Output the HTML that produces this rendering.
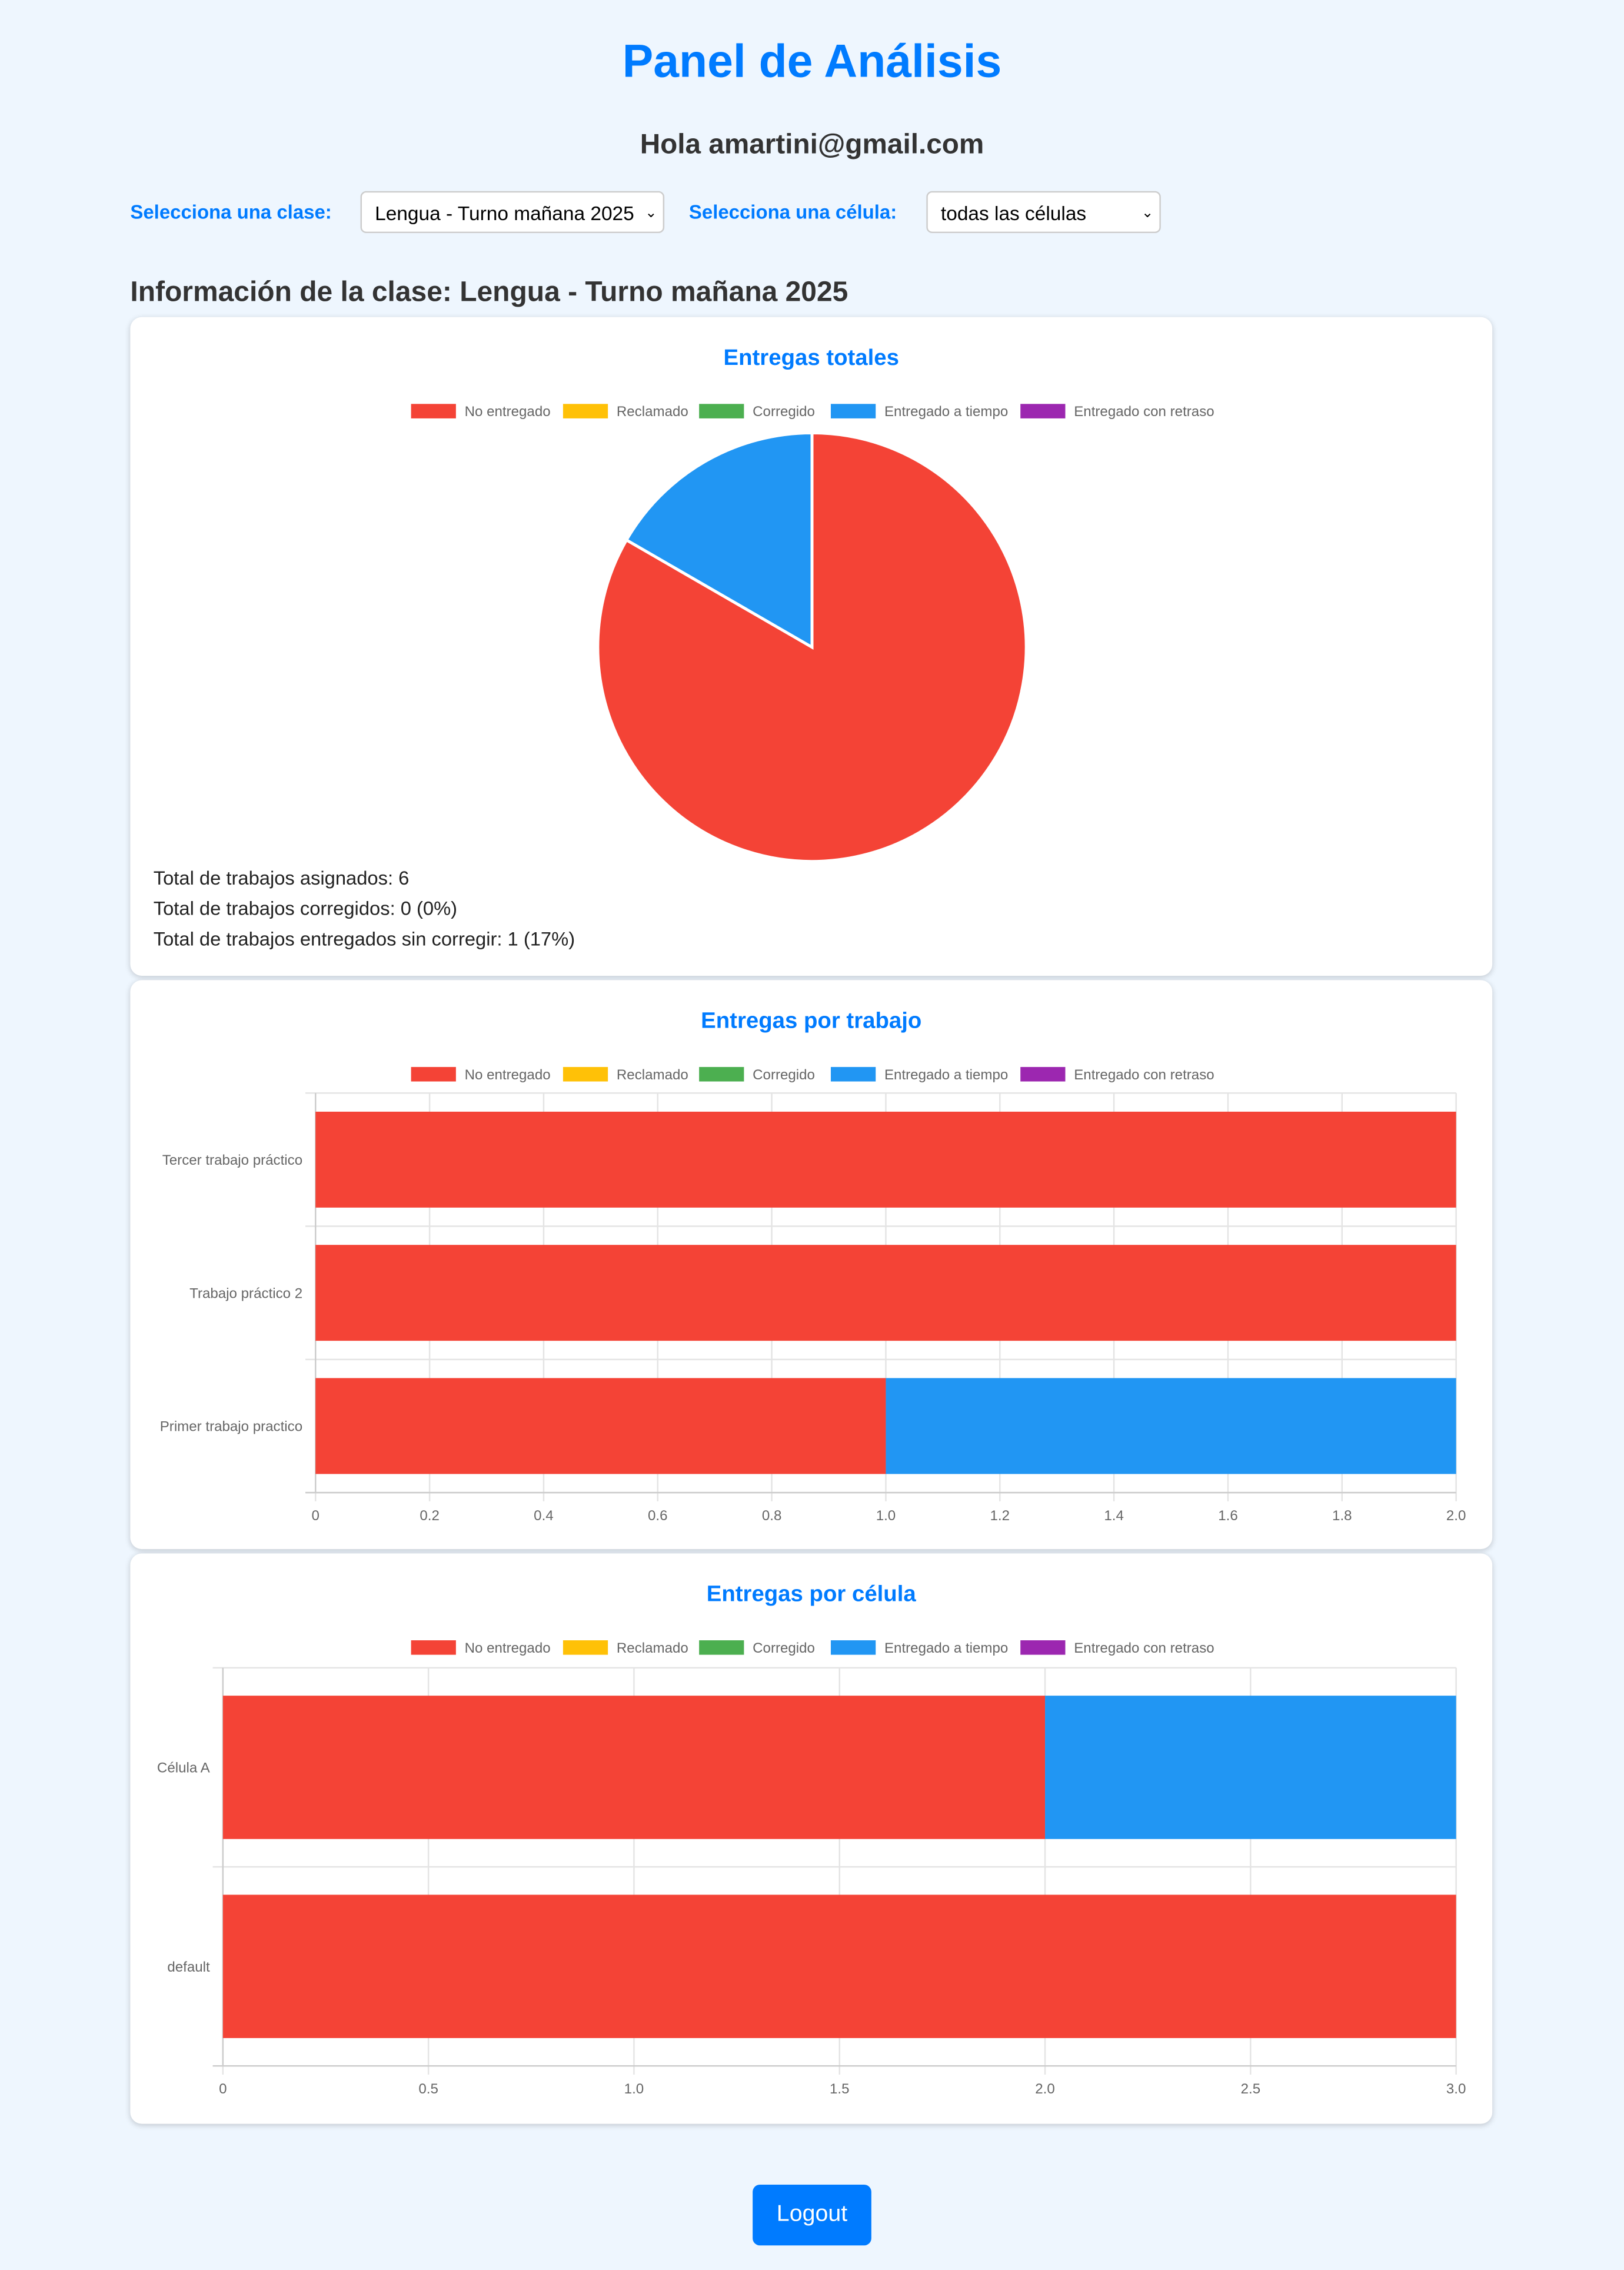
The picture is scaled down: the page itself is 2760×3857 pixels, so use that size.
<!DOCTYPE html>
<html><head><meta charset="utf-8">
<style>
html,body{margin:0;padding:0;background:#eef6fe;}
body{width:2760px;height:3856px;overflow:hidden;font-family:"Liberation Sans",Arial,sans-serif;}
#wrap{position:absolute;left:0;top:0;width:1122px;height:1568px;transform:scale(2.45989);transform-origin:0 0;}
.abs{position:absolute;}
h1{position:absolute;left:0;width:1122px;top:20px;margin:0;text-align:center;font-size:32px;color:#007bff;font-weight:bold;line-height:44px;}
.hola{position:absolute;left:0;width:1122px;top:89px;text-align:center;font-size:19.4px;font-weight:bold;color:#333;}
.lbl{position:absolute;top:139px;font-size:13.4px;font-weight:bold;color:#007bff;}
.sel{position:absolute;top:132px;height:29px;background:#fff;border:1px solid #ccc;border-radius:4px;box-sizing:border-box;font-size:13.6px;color:#000;line-height:29px;padding-left:9px;}
.sel span.ar{position:absolute;right:4px;top:0;font-size:10px;}
.info{position:absolute;left:90px;top:191px;font-size:19.5px;font-weight:bold;color:#333;}
.card{position:absolute;left:90px;width:941px;background:#fff;border-radius:8px;box-shadow:0 1px 4px rgba(0,0,0,0.18);box-sizing:border-box;}
.ctitle{position:absolute;left:0;width:100%;text-align:center;font-size:15.6px;font-weight:bold;color:#007bff;}
.stat{position:absolute;left:16px;font-size:13.3px;color:#222;}
.btn{position:absolute;left:520px;top:1509px;width:82px;height:42px;background:#007bff;color:#fff;border-radius:5px;font-size:16px;text-align:center;line-height:42px;}
svg text{font-family:"Liberation Sans",Arial,sans-serif;}
</style></head>
<body>
<div id="wrap">
<h1>Panel de Análisis</h1>
<div class="hola">Hola amartini@gmail.com</div>
<div class="lbl" style="left:90px">Selecciona una clase:</div>
<div class="sel" style="left:249px;width:210px">Lengua - Turno mañana 2025<span class="ar">⌄</span></div>
<div class="lbl" style="left:476px">Selecciona una célula:</div>
<div class="sel" style="left:640px;width:162px">todas las células<span class="ar">⌄</span></div>
<div class="info">Información de la clase: Lengua - Turno mañana 2025</div>

<div class="card" style="top:219px;height:455px">
 <div class="ctitle" style="top:20px">Entregas totales</div>
 <div class="stat" style="top:380px">Total de trabajos asignados: 6</div>
 <div class="stat" style="top:401px">Total de trabajos corregidos: 0 (0%)</div>
 <div class="stat" style="top:422px">Total de trabajos entregados sin corregir: 1 (17%)</div>
</div>
<div class="card" style="top:677px;height:393px">
 <div class="ctitle" style="top:20px">Entregas por trabajo</div>
</div>
<div class="card" style="top:1073px;height:394px">
 <div class="ctitle" style="top:20px">Entregas por célula</div>
</div>
<svg id="charts" class="abs" style="left:0;top:0" width="1122" height="1568"></svg>
<div class="btn">Logout</div>
</div>
<script>
const seriesNames = ["No entregado","Reclamado","Corregido","Entregado a tiempo","Entregado con retraso"];
const seriesColors = ["#f44336","#ffc107","#4caf50","#2196f3","#9c27b0"];
const pieValues = [5,0,0,1,0];
const workCategories = ["Tercer trabajo práctico","Trabajo práctico 2","Primer trabajo practico"];
const workNoEntregado = [2,2,1];
const workReclamado = [0,0,0];
const workCorregido = [0,0,0];
const workATiempo = [0,0,1];
const workRetraso = [0,0,0];
const workTicks = [0,0.2,0.4,0.6,0.8,1.0,1.2,1.4,1.6,1.8,2.0];
const workTickLabels = ["0","0.2","0.4","0.6","0.8","1.0","1.2","1.4","1.6","1.8","2.0"];
const cellCategories = ["Célula A","default"];
const cellNoEntregado = [2,3];
const cellReclamado = [0,0];
const cellCorregido = [0,0];
const cellATiempo = [1,0];
const cellRetraso = [0,0];
const cellTicks = [0,0.5,1,1.5,2,2.5,3];
const cellTickLabels = ["0","0.5","1.0","1.5","2.0","2.5","3.0"];

const NS="http://www.w3.org/2000/svg";
const svg=document.getElementById('charts');
function mk(tag,attrs,parent){const e=document.createElementNS(NS,tag);for(const k in attrs)e.setAttribute(k,attrs[k]);(parent||svg).appendChild(e);return e;}

function legend(y,prefix){
  const boxX=[284,389,483,574,705];
  seriesNames.forEach((n,i)=>{
    const r=mk('rect',{x:boxX[i],y:y-5,width:31,height:10,fill:seriesColors[i]});
    
    
    const t=mk('text',{x:boxX[i]+37,y:y+3.5,'font-size':9.8,fill:'#666'});
    t.textContent=n;
    
    
  });
}

legend(284,'pie');
(function(){
  const cx=561,cy=447,r=148;
  const total=pieValues.reduce((a,b)=>a+b,0);
  let a=-Math.PI/2;
  pieValues.forEach((v,i)=>{
    if(v<=0)return;
    const a2=a+v/total*2*Math.PI;
    const large=(a2-a)>Math.PI?1:0;
    const d=`M${cx},${cy} L${cx+r*Math.cos(a)},${cy+r*Math.sin(a)} A${r},${r} 0 ${large} 1 ${cx+r*Math.cos(a2)},${cy+r*Math.sin(a2)} Z`;
    const p=mk('path',{d:d,fill:seriesColors[i],stroke:'#fff','stroke-width':2});
    
    
    a=a2;
  });
})();

function hbar(opt){
  const {x0,x1,y0,y1,max,cats,series,ticks,tickLabels,prefix,barFrac}=opt;
  const xs=v=>x0+(v/max)*(x1-x0);
  const rowH=(y1-y0)/cats.length;
  ticks.forEach((t,i)=>{
    const g=mk('line',{x1:xs(t),x2:xs(t),y1:y0,y2:y1+6,stroke:'#e4e4e4','stroke-width':1});
    
    
    const tl=mk('text',{x:xs(t),y:y1+19,'font-size':9.8,fill:'#666','text-anchor':'middle'});
    tl.textContent=tickLabels[i];
    
    
  });
  for(let i=0;i<=cats.length;i++){
    const l=mk('line',{x1:x0-7,x2:x1,y1:y0+i*rowH,y2:y0+i*rowH,stroke:'#e4e4e4','stroke-width':1});
    
    
  }
  mk('line',{x1:x0,x2:x0,y1:y0,y2:y1,stroke:'#ccc','stroke-width':1});
  mk('line',{x1:x0-7,x2:x1,y1:y1,y2:y1,stroke:'#ccc','stroke-width':1});
  cats.forEach((c,ci)=>{
    const cyy=y0+rowH*(ci+0.5);
    const bh=rowH*barFrac;
    let acc=0;
    series.forEach((s,si)=>{
      const v=s[ci];
      if(v>0){
        const r=mk('rect',{x:xs(acc),y:cyy-bh/2,width:xs(acc+v)-xs(acc),height:bh,fill:seriesColors[si]});
        
        
      }
      acc+=v;
    });
    const t=mk('text',{x:x0-9,y:cyy+3.5,'font-size':9.8,fill:'#666','text-anchor':'end'});
    t.textContent=c;
    
    
  });
}

legend(742,'work');
hbar({x0:218,x1:1006,y0:755,y1:1031,max:2,cats:workCategories,
  series:[workNoEntregado,workReclamado,workCorregido,workATiempo,workRetraso],
  ticks:workTicks,tickLabels:workTickLabels,prefix:'work',barFrac:0.72});

legend(1138,'cell');
hbar({x0:154,x1:1006,y0:1152,y1:1427,max:3,cats:cellCategories,
  series:[cellNoEntregado,cellReclamado,cellCorregido,cellATiempo,cellRetraso],
  ticks:cellTicks,tickLabels:cellTickLabels,prefix:'cell',barFrac:0.72});
</script>
</body></html>
